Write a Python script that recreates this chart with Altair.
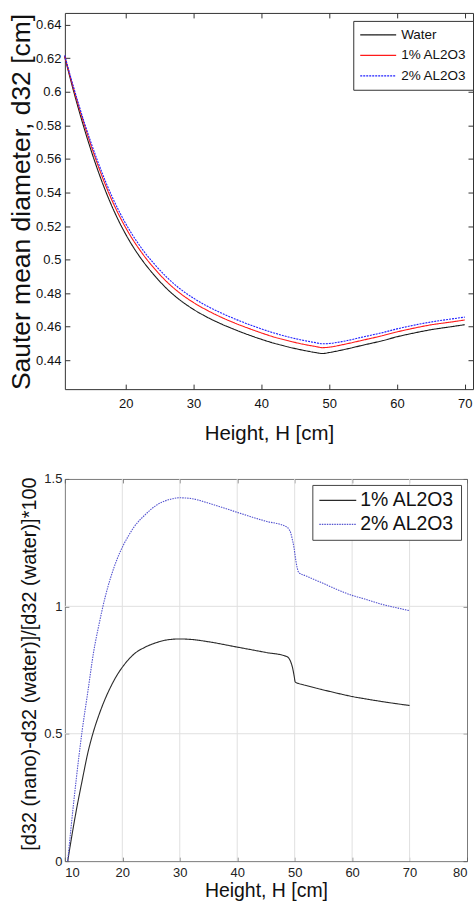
import altair as alt
import pandas as pd

# ---------------- data ----------------
H_top = [11, 12, 13, 14, 15, 16, 17, 18, 19, 20, 21, 22, 23, 24, 26, 28, 30, 32, 34, 36,
         38, 40, 42, 44, 46, 48, 49, 50, 52, 55, 58, 60, 62, 65, 68, 70]
water = [0.621, 0.6052, 0.5904, 0.5766, 0.5638, 0.5520, 0.5412, 0.5315, 0.5228, 0.5151,
         0.5082, 0.5021, 0.4966, 0.4917, 0.4829, 0.4759, 0.4703, 0.4657, 0.4618, 0.4584,
         0.4553, 0.4525, 0.4500, 0.4479, 0.4461, 0.4446, 0.4440, 0.4446, 0.4462, 0.4490,
         0.4518, 0.4540, 0.4558, 0.4582, 0.4600, 0.4612]
al2o3_1 = [0.6214, 0.6064, 0.5923, 0.5791, 0.5667, 0.5552, 0.5446, 0.5351, 0.5266, 0.5190,
           0.5122, 0.5062, 0.5007, 0.4958, 0.4870, 0.4800, 0.4744, 0.4698, 0.4658, 0.4623,
           0.4592, 0.4563, 0.4537, 0.4516, 0.4497, 0.4482, 0.4475, 0.4478, 0.4493, 0.4520,
           0.4548, 0.4569, 0.4587, 0.4611, 0.4628, 0.4640]
al2o3_2 = [0.6217, 0.6072, 0.5934, 0.5804, 0.5684, 0.5572, 0.5468, 0.5374, 0.5290, 0.5214,
           0.5147, 0.5087, 0.5032, 0.4984, 0.4897, 0.4826, 0.4770, 0.4723, 0.4683, 0.4648,
           0.4616, 0.4587, 0.4561, 0.4539, 0.4520, 0.4505, 0.4498, 0.4500, 0.4512, 0.4539,
           0.4566, 0.4587, 0.4605, 0.4628, 0.4646, 0.4657]

H_bot = [10.5, 11, 12, 13, 14, 15, 16, 17, 18, 19, 20, 21, 22, 24, 26, 28, 30, 32, 35, 40,
         45, 48.5, 49, 49.3, 49.6, 49.9, 50.1, 50.4, 50.7, 52, 55, 58, 60, 62, 65, 68, 70]
pct_1 = [0, 0.07, 0.2, 0.315, 0.425, 0.51, 0.578, 0.636, 0.685, 0.727, 0.761, 0.789, 0.812,
         0.840, 0.858, 0.869, 0.872, 0.870, 0.861, 0.840, 0.819, 0.804, 0.796, 0.783, 0.762,
         0.728, 0.703, 0.699, 0.697, 0.689, 0.672, 0.656, 0.646, 0.638, 0.627, 0.617, 0.611]
pct_2 = [0, 0.115, 0.325, 0.51, 0.665, 0.82, 0.935, 1.035, 1.115, 1.18, 1.232, 1.274, 1.31,
         1.36, 1.398, 1.418, 1.426, 1.423, 1.405, 1.369, 1.334, 1.313, 1.303, 1.289, 1.262,
         1.228, 1.195, 1.155, 1.133, 1.119, 1.09, 1.06, 1.043, 1.030, 1.009, 0.993, 0.983]

top_series = ["Water", "1% AL2O3", "2% AL2O3"]
bot_series = ["1% AL2O3", "2% AL2O3"]

top_x_ticks = [20, 30, 40, 50, 60, 70]
top_y_ticks = [0.44, 0.46, 0.48, 0.50, 0.52, 0.54, 0.56, 0.58, 0.60, 0.62, 0.64]
bot_x_ticks = [10, 20, 30, 40, 50, 60, 70, 80]
bot_y_ticks = [0, 0.5, 1.0, 1.5]
bot_x_grid = [20, 30, 40, 50, 60, 70]
bot_y_grid = [0.5, 1.0]

# ---------------- styling ----------------
SANS = "Liberation Sans, Arial, sans-serif"

top_df = pd.DataFrame({
    "H": H_top * 3,
    "d32": water + al2o3_1 + al2o3_2,
    "Fluid": [top_series[0]] * len(H_top) + [top_series[1]] * len(H_top) + [top_series[2]] * len(H_top),
})
bot_df = pd.DataFrame({
    "H": H_bot * 2,
    "pct": pct_1 + pct_2,
    "Series": [bot_series[0]] * len(H_bot) + [bot_series[1]] * len(H_bot),
})

# ---------------- top chart ----------------
tx_scale = alt.Scale(domain=[11.03, 71.21], nice=False, zero=False)
ty_scale = alt.Scale(domain=[0.4228, 0.647], nice=False, zero=False)
TC = "#333333"

top_legend = alt.Legend(
    title=None, orient="none", legendX=289, legendY=8,
    symbolType="stroke", symbolSize=1296, symbolStrokeWidth=1.2, clipHeight=16,
    rowPadding=4.5, labelFont=SANS, labelFontSize=13.5, labelColor="#111111",
    labelOffset=4, padding=6, strokeColor="#333333", fillColor="white",
)

top_lines = alt.Chart(top_df).mark_line(strokeWidth=1.1, interpolate="monotone").encode(
    x=alt.X("H:Q", scale=tx_scale, axis=alt.Axis(
        orient="bottom", values=top_x_ticks, format="d", offset=-5, tickSize=5,
        tickColor=TC, domain=False, grid=False, labelPadding=8,
        labelFont=SANS, labelFontSize=13, labelColor="#111111",
        title="Height, H [cm]", titleFont=SANS, titleFontSize=20.5,
        titleFontWeight="normal", titleColor="#111111",
        titleBaseline="alphabetic", titleY=55)),
    y=alt.Y("d32:Q", scale=ty_scale, axis=alt.Axis(
        orient="left", values=top_y_ticks, format=".2~f", offset=-5, tickSize=5,
        tickColor=TC, domain=False, grid=False, labelPadding=4,
        labelFont=SANS, labelFontSize=13, labelColor="#111111",
        title="Sauter mean diameter, d32 [cm]", titleFont=SANS, titleFontSize=26.5,
        titleFontWeight="normal", titleColor="#111111",
        titleBaseline="alphabetic", titleX=-40, titleY=189)),
    color=alt.Color("Fluid:N", sort=top_series,
                    scale=alt.Scale(domain=top_series, range=["#1a1a1a", "#ff1a1a", "#2020ff"]),
                    legend=top_legend),
    strokeDash=alt.StrokeDash("Fluid:N", sort=top_series,
                              scale=alt.Scale(domain=top_series, range=[[1, 0], [1, 0], [2, 1]]),
                              legend=top_legend),
    order=alt.Order("H:Q"),
)

top_mirror = alt.Chart(top_df).mark_point(opacity=0, size=1).encode(
    x=alt.X("H:Q", scale=tx_scale, axis=alt.Axis(
        orient="top", values=top_x_ticks, offset=-5, tickSize=5, tickColor=TC,
        domain=False, grid=False, labels=False, title=None)),
    y=alt.Y("d32:Q", scale=ty_scale, axis=alt.Axis(
        orient="right", values=top_y_ticks, offset=-5, tickSize=5, tickColor=TC,
        domain=False, grid=False, labels=False, title=None)),
)

top = alt.layer(top_lines, top_mirror).resolve_axis(
    x="independent", y="independent"
).properties(width=409, height=377,
             view=alt.ViewBackground(stroke="#333333", strokeWidth=1))

# ---------------- bottom chart ----------------
bx_scale = alt.Scale(domain=[10, 80], nice=False, zero=False)
by_scale = alt.Scale(domain=[0, 1.5], nice=False, zero=False)
BC = "#666666"

bot_legend = alt.Legend(
    title=None, orient="none", legendX=248, legendY=6,
    symbolType="stroke", symbolSize=1369, symbolStrokeWidth=1.2, clipHeight=19,
    rowPadding=4, labelFont=SANS, labelFontSize=19.5, labelColor="#111111",
    labelOffset=3, padding=6, strokeColor="#444444", fillColor="white",
)

gx = alt.Chart(pd.DataFrame({"gx": bot_x_grid})).mark_rule(color="#e0e0e0", strokeWidth=1).encode(
    x=alt.X("gx:Q", scale=bx_scale, axis=None))
gy = alt.Chart(pd.DataFrame({"gy": bot_y_grid})).mark_rule(color="#e0e0e0", strokeWidth=1).encode(
    y=alt.Y("gy:Q", scale=by_scale, axis=None))

bot_lines = alt.Chart(bot_df).mark_line(strokeWidth=1.1, interpolate="monotone").encode(
    x=alt.X("H:Q", scale=bx_scale, axis=alt.Axis(
        orient="bottom", values=bot_x_ticks, format="d", offset=-4, tickSize=4,
        tickColor=BC, domain=False, grid=False, labelPadding=5,
        labelFont=SANS, labelFontSize=13, labelColor="#222222",
        title="Height, H [cm]", titleFont=SANS, titleFontSize=19.5,
        titleFontWeight="normal", titleColor="#111111",
        titleBaseline="alphabetic", titleY=39)),
    y=alt.Y("pct:Q", scale=by_scale, axis=alt.Axis(
        orient="left", values=bot_y_ticks, format="~g", offset=-4, tickSize=4,
        tickColor=BC, domain=False, grid=False, labelPadding=3,
        labelFont=SANS, labelFontSize=13, labelColor="#222222",
        title="[d32 (nano)-d32 (water)]/[d32 (water)]*100", titleFont=SANS,
        titleFontSize=20, titleFontWeight="normal", titleColor="#111111",
        titleBaseline="alphabetic", titleX=-33, titleY=185)),
    color=alt.Color("Series:N", sort=bot_series,
                    scale=alt.Scale(domain=bot_series, range=["#2a2a2a", "#5555d0"]),
                    legend=bot_legend),
    strokeDash=alt.StrokeDash("Series:N", sort=bot_series,
                              scale=alt.Scale(domain=bot_series, range=[[1, 0], [1.5, 1]]),
                              legend=bot_legend),
    order=alt.Order("H:Q"),
)

bot_mirror = alt.Chart(bot_df).mark_point(opacity=0, size=1).encode(
    x=alt.X("H:Q", scale=bx_scale, axis=alt.Axis(
        orient="top", values=bot_x_ticks, offset=-4, tickSize=4, tickColor=BC,
        domain=False, grid=False, labels=False, title=None)),
    y=alt.Y("pct:Q", scale=by_scale, axis=alt.Axis(
        orient="right", values=bot_y_ticks, offset=-4, tickSize=4, tickColor=BC,
        domain=False, grid=False, labels=False, title=None)),
)

bottom = alt.layer(gx, gy, bot_lines, bot_mirror).resolve_axis(
    x="independent", y="independent"
).properties(width=403, height=383,
             view=alt.ViewBackground(stroke="#7a7a7a", strokeWidth=1))

chart = alt.vconcat(top, bottom, spacing=90, bounds="flush").resolve_scale(
    color="independent", strokeDash="independent"
).resolve_legend(
    color="independent", strokeDash="independent"
).properties(
    padding={"left": 8, "top": 11, "right": 0, "bottom": 0},
    background="white",
)

chart.save("out.html", embed_options={"renderer": "svg", "actions": False})
